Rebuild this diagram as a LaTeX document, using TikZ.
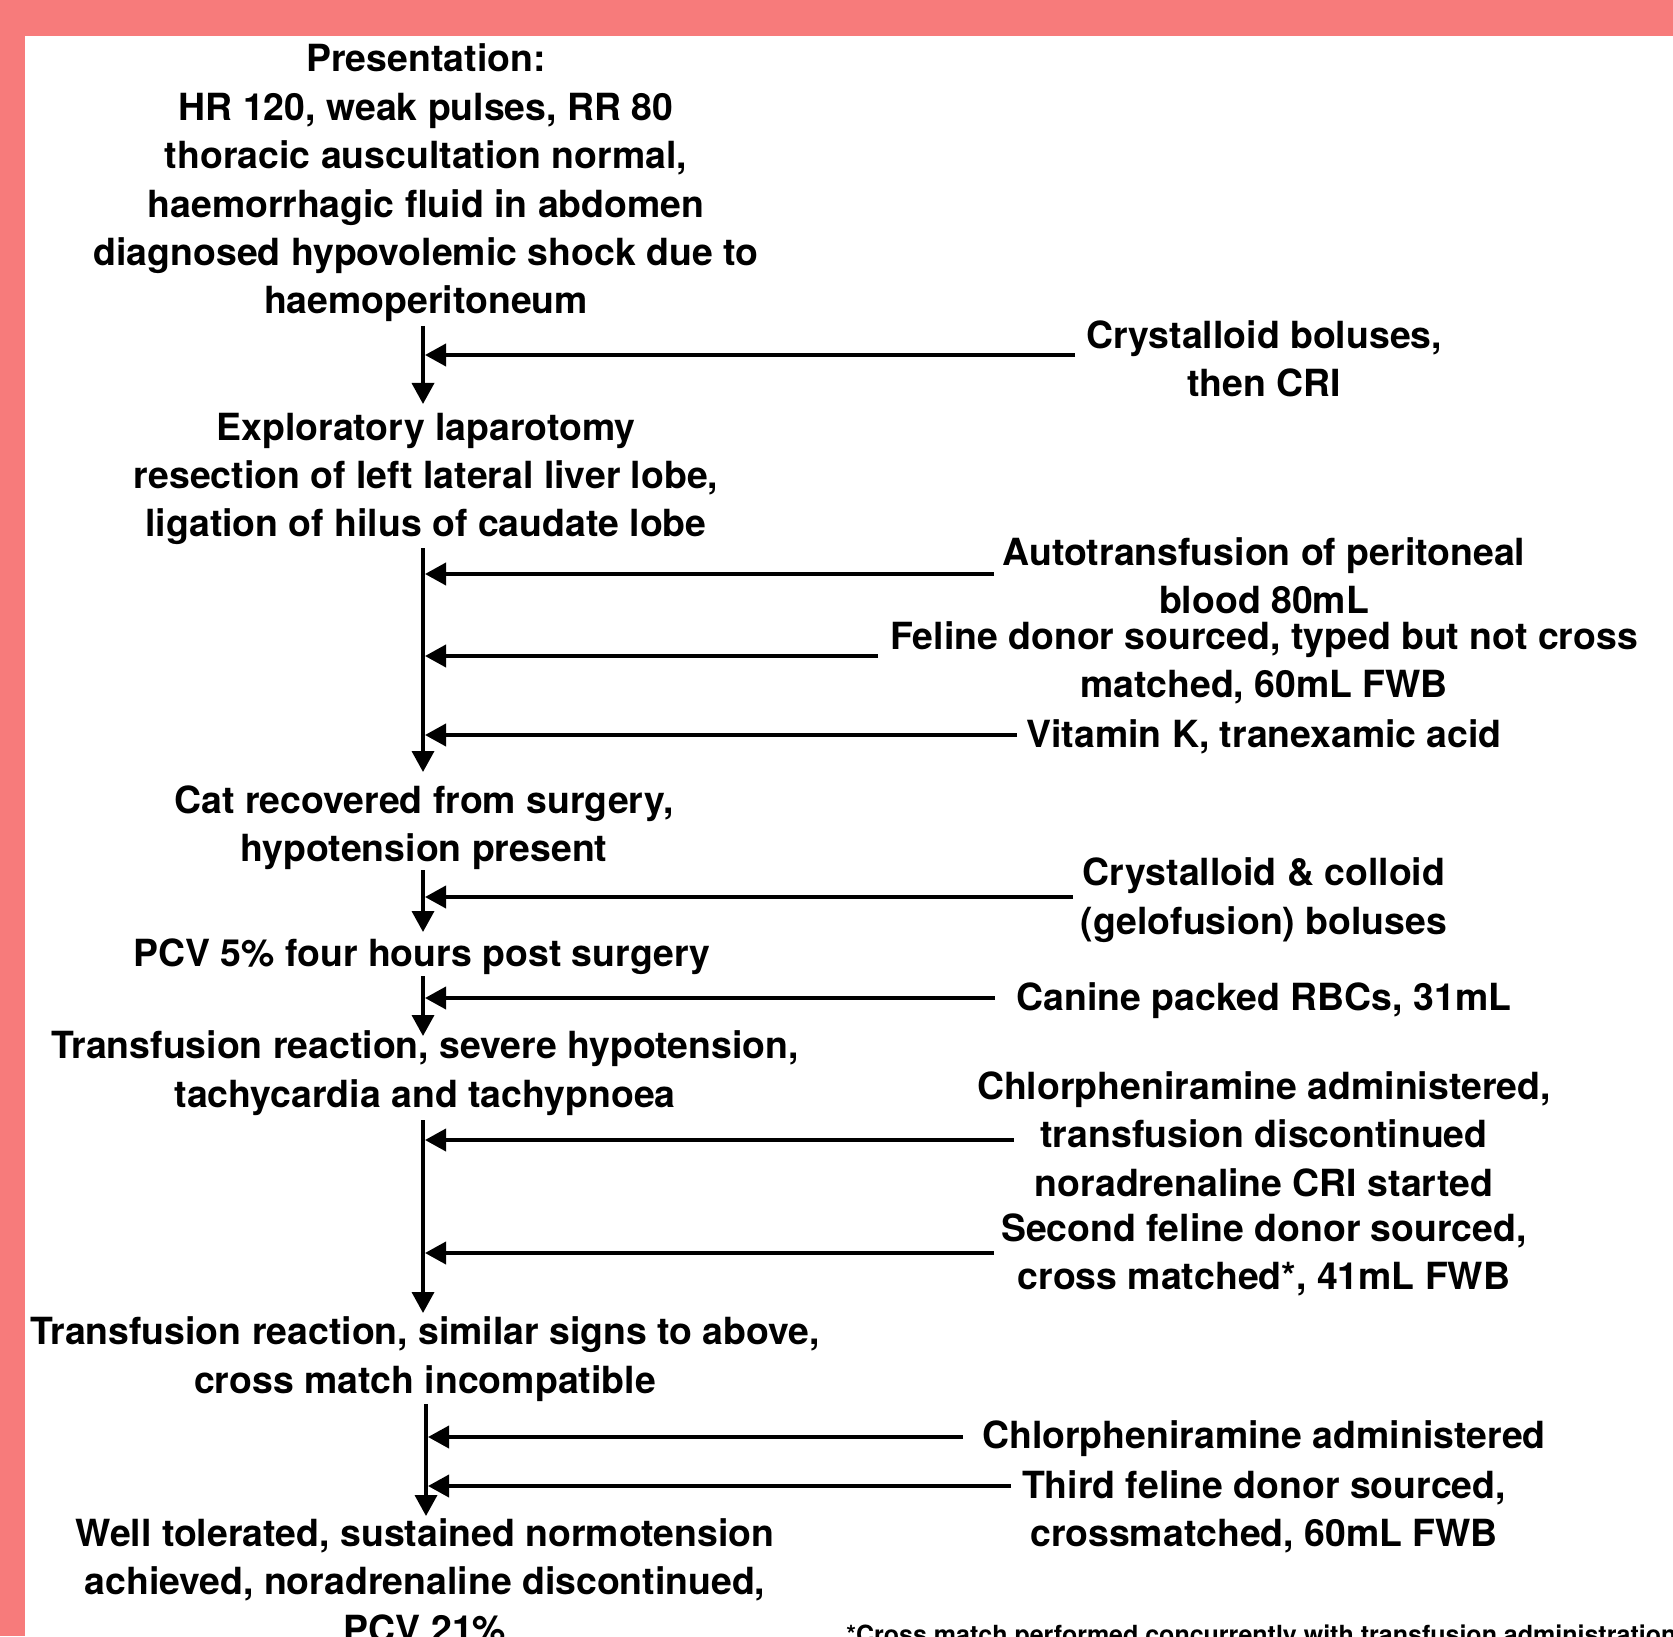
\documentclass[tikz,border=0pt]{standalone}
\usepackage{fontspec}
\setmainfont{TeX Gyre Heros}
\usetikzlibrary{arrows.meta}
\definecolor{bgpink}{RGB}{247,123,123}
\tikzset{
  txt/.style={align=center,inner sep=0pt,font=\bfseries\fontsize{18.7}{24.2}\selectfont},
  flow/.style={line width=1.8pt,-{Triangle[length=10.5pt,width=11pt]}},
  feed/.style={line width=1.9pt,-{Triangle[length=10.5pt,width=11pt]}},
}
\begin{document}
\begin{tikzpicture}[x=0.5pt,y=-0.5pt]
\useasboundingbox (0,0) rectangle (1673,1636);
\clip (0,0) rectangle (1673,1636);
\fill[bgpink] (0,0) rectangle (1673,1636);
\fill[white] (25,36) rectangle (1673,1636);

% left column
\node[txt] (A) at (426,183) {Presentation:\\HR 120, weak pulses, RR 80\\thoracic auscultation normal,\\haemorrhagic fluid in abdomen\\diagnosed hypovolemic shock due to\\haemoperitoneum};
\node[txt] (B) at (426,479) {Exploratory laparotomy\\resection of left lateral liver lobe,\\ligation of hilus of caudate lobe};
\node[txt] (C) at (424,828) {Cat recovered from surgery,\\hypotension present};
\node[txt] (D) at (422,957) {PCV 5\% four hours post surgery};
\node[txt] (E) at (425,1073) {Transfusion reaction, severe hypotension,\\tachycardia and tachypnoea};
\node[txt] (F) at (425,1359) {Transfusion reaction, similar signs to above,\\cross match incompatible};
\node[txt] (G) at (425,1581) {Well tolerated, sustained normotension\\achieved, noradrenaline discontinued,\\PCV 21\%};

% right column
\node[txt] (R1) at (1264,359) {Crystalloid boluses,\\then CRI};
\node[txt] (R2) at (1264,576) {Autotransfusion of peritoneal\\blood 80mL};
\node[txt] (R3) at (1264,663) {Feline donor sourced, typed but not cross\\matched, 60mL FWB};
\node[txt] (R4) at (1264,737) {Vitamin K, tranexamic acid};
\node[txt] (R5) at (1264,900) {Crystalloid \& colloid\\(gelofusion) boluses};
\node[txt] (R6) at (1264,1001) {Canine packed RBCs, 31mL};
\node[txt] (R7) at (1264,1134) {Chlorpheniramine administered,\\transfusion discontinued\\noradrenaline CRI started};
\node[txt] (R8) at (1264,1255) {Second feline donor sourced,\\cross matched*, 41mL FWB};
\node[txt] (R9) at (1264,1439) {Chlorpheniramine administered};
\node[txt] (R10) at (1264,1512) {Third feline donor sourced,\\crossmatched, 60mL FWB};

\node[anchor=base west,inner sep=0pt,font=\bfseries\fontsize{12.5}{14}\selectfont] (FN) at (846,1643) {*Cross match performed concurrently with transfusion administration};

% vertical flow
\coordinate (a1) at (423,326); \coordinate (b1) at (423,404);
\coordinate (a2) at (423,548); \coordinate (b2) at (423,772);
\coordinate (a3) at (423,870); \coordinate (b3) at (423,932);
\coordinate (a4) at (423,976); \coordinate (b4) at (423,1036);
\coordinate (a5) at (423,1120); \coordinate (b5) at (423,1313);
\coordinate (a6) at (426,1404); \coordinate (b6) at (426,1516);
\draw[flow] (a1) -- (b1);
\draw[flow] (a2) -- (b2);
\draw[flow] (a3) -- (b3);
\draw[flow] (a4) -- (b4);
\draw[flow] (a5) -- (b5);
\draw[flow] (a6) -- (b6);

% feeding arrows
\coordinate (h1) at (1075,355);
\coordinate (h2) at (994,574);
\coordinate (h3) at (878,656);
\coordinate (h4) at (1017,735);
\coordinate (h5) at (1073,897);
\coordinate (h6) at (995,998);
\coordinate (h7) at (1014,1140);
\coordinate (h8) at (994,1253);
\coordinate (h9) at (963,1437);
\coordinate (h10) at (1011,1486);
\draw[feed] (h1) -- (425,355);
\draw[feed] (h2) -- (425,574);
\draw[feed] (h3) -- (425,656);
\draw[feed] (h4) -- (425,735);
\draw[feed] (h5) -- (425,897);
\draw[feed] (h6) -- (425,998);
\draw[feed] (h7) -- (425,1140);
\draw[feed] (h8) -- (425,1253);
\draw[feed] (h9) -- (428,1437);
\draw[feed] (h10) -- (428,1486);
\end{tikzpicture}
\end{document}
